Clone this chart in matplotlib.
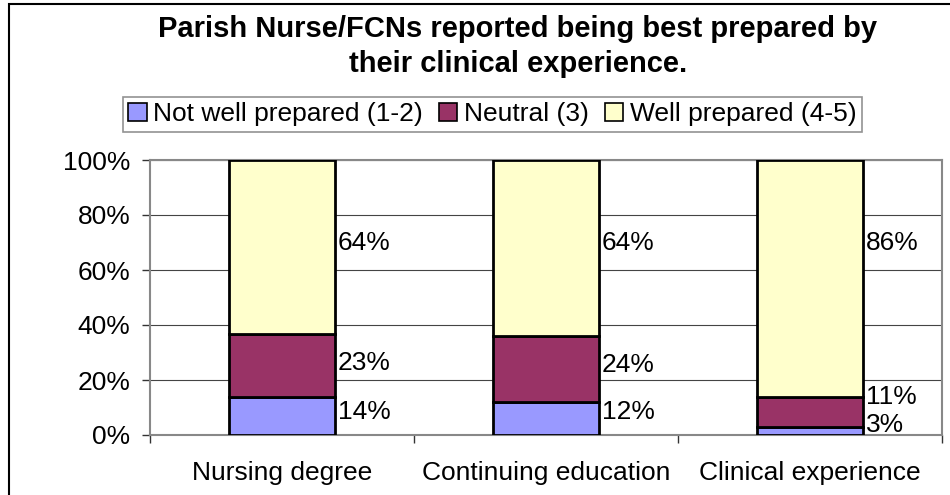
import matplotlib.pyplot as plt
import matplotlib.patches as mpatches
import numpy as np

# data
categories = ['Nursing degree', 'Continuing education', 'Clinical experience']
series_names = ['Not well prepared (1-2)', 'Neutral (3)', 'Well prepared (4-5)']
not_well = [14, 12, 3]
neutral = [23, 24, 11]
well = [64, 64, 86]

# style / layout
colors = ['#9999FF', '#993366', '#FFFFCC']
label_pos = [[8.4, 26.2, 69.8], [8.4, 25.5, 69.8], [3.6, 13.8, 69.8]]  # label heights, % of axis

plt.rcParams['font.family'] = ['Liberation Sans', 'DejaVu Sans']

fig = plt.figure(figsize=(9.5, 4.95), dpi=100)
ax = fig.add_axes([150 / 950, 1 - 435 / 495, 792 / 950, 275 / 495])

values = np.array([not_well, neutral, well], dtype=float)
pct = values / values.sum(axis=0) * 100
x = np.arange(len(categories))
width = 0.4

bottom = np.zeros(len(categories))
for i, name in enumerate(series_names):
    ax.bar(x, pct[i], width, bottom=bottom, color=colors[i], edgecolor='black',
           linewidth=2, label=name, zorder=3)
    bottom += pct[i]

# value labels right of each bar
for j in range(len(categories)):
    for i in range(len(series_names)):
        ax.annotate('%d%%' % values[i, j], xy=(x[j] + width / 2, label_pos[j][i]),
                    xytext=(2, 0), textcoords='offset points',
                    ha='left', va='center', fontsize=19, zorder=4)

ax.set_xlim(-0.5, len(categories) - 0.5)
ax.set_ylim(0, 100)
ax.set_yticks(np.arange(0, 101, 20))
ax.set_yticklabels(['%d%%' % v for v in range(0, 101, 20)])
ax.yaxis.grid(True, color='#444444', linewidth=0.8, zorder=0)

ax.set_xticks(x)
ax.set_xticklabels(categories)
ax.set_xticks(np.arange(-0.5, len(categories)), minor=True)
ax.tick_params(axis='x', which='major', length=0, pad=19, labelsize=19)
ax.tick_params(axis='x', which='minor', length=6, width=1, color='#333333')
ax.tick_params(axis='y', length=6, width=1, color='#333333', pad=8, labelsize=19)

for s in ax.spines.values():
    s.set_color('#888888')
    s.set_linewidth(1.5)

fig.text(0.545, 1 - 29 / 495, 'Parish Nurse/FCNs reported being best prepared by',
         ha='center', va='center', fontsize=21, fontweight='bold')
fig.text(0.545, 1 - 64 / 495, 'their clinical experience.',
         ha='center', va='center', fontsize=21, fontweight='bold')

leg = fig.legend(loc='upper left', bbox_to_anchor=(123 / 950, 1 - 97 / 495),
                 ncol=3, fontsize=19, frameon=True, fancybox=False,
                 handlelength=0.7, handleheight=0.7, handletextpad=0.25,
                 columnspacing=0.6, borderpad=0.2, borderaxespad=0)
leg.get_frame().set_edgecolor('#777777')
leg.get_frame().set_linewidth(1.2)
for h in leg.legend_handles:
    h.set_linewidth(1.2)

# outer chart border (top and left visible, the rest runs off the image)
fig.patches.append(mpatches.Rectangle((9 / 950, -0.1), 1.2, 1.1 - 4 / 495,
                                      transform=fig.transFigure, fill=False,
                                      edgecolor='black', linewidth=1.5))

fig.savefig('out.png', dpi=100)
